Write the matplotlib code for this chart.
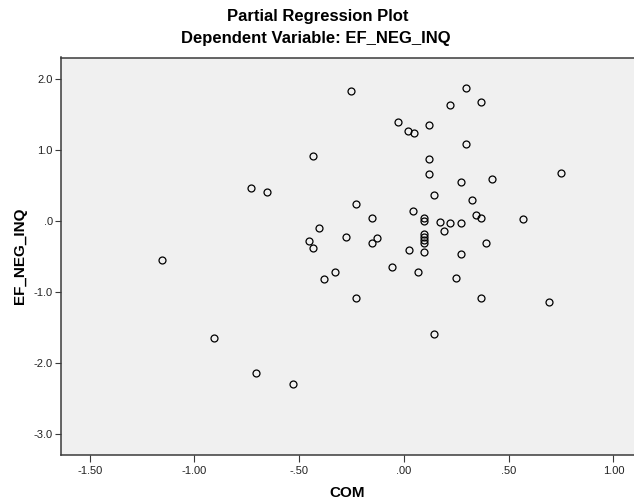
import matplotlib
matplotlib.use("Agg")
import matplotlib.pyplot as plt

plt.rcParams['font.family'] = ['Liberation Sans', 'DejaVu Sans']

com = [-0.252, -0.433, -0.729, -0.655, -0.229, -0.404, -0.278, -0.455, -0.433, -1.155,
       -0.382, -0.331, -0.229, -0.905, -0.705, -0.528, 0.294, 0.221, 0.369, -0.029,
       0.021, 0.046, 0.119, 0.294, 0.119, 0.119, 0.272, 0.420, 0.749, 0.143,
       0.323, 0.045, -0.154, 0.096, 0.096, 0.170, 0.221, 0.272, 0.345, 0.369,
       0.568, 0.192, -0.154, -0.130, 0.096, 0.096, 0.096, 0.096, 0.022, 0.096,
       0.272, 0.391, -0.057, 0.067, 0.248, 0.369, 0.692, 0.143]
ef_neg_inq = [1.824, 0.910, 0.460, 0.413, 0.239, -0.103, -0.225, -0.281, -0.380, -0.553,
              -0.816, -0.717, -1.083, -1.646, -2.147, -2.300, 1.871, 1.632, 1.674, 1.398,
              1.262, 1.233, 1.346, 1.083, 0.872, 0.657, 0.544, 0.591, 0.671, 0.366,
              0.291, 0.134, 0.047, 0.037, 0.000, -0.013, -0.023, -0.023, 0.080, 0.038,
              0.024, -0.140, -0.304, -0.243, -0.180, -0.225, -0.270, -0.310, -0.410, -0.440,
              -0.462, -0.304, -0.641, -0.715, -0.806, -1.083, -1.143, -1.593]

xticks = [-1.5, -1.0, -0.5, 0.0, 0.5, 1.0]
xticklabels = ["-1.50", "-1.00", "-.50", ".00", ".50", "1.00"]
yticks = [2.0, 1.0, 0.0, -1.0, -2.0, -3.0]
yticklabels = ["2.0", "1.0", ".0", "-1.0", "-2.0", "-3.0"]

fig = plt.figure(figsize=(6.34, 5.04), dpi=100)
ax = fig.add_axes([61/634, 49/504, 1 - 61/634, (455-57.5)/504])
ax.set_facecolor('#F0F0F0')

ax.plot(com, ef_neg_inq, linestyle='none', marker='o', markersize=5,
        markerfacecolor='none', markeredgecolor='black', markeredgewidth=0.9)

ax.set_xlim(-1.637, 1.098)
ax.set_ylim(-3.295, 2.302)
ax.set_xticks(xticks)
ax.set_xticklabels(xticklabels)
ax.set_yticks(yticks)
ax.set_yticklabels(yticklabels)

for s in ['left', 'bottom', 'top']:
    ax.spines[s].set_color('#3a3a3a')
    ax.spines[s].set_linewidth(1.1)
ax.spines['right'].set_visible(False)

ax.tick_params(axis='both', direction='out', length=4, width=0.8, color='#3a3a3a',
               labelsize=8, labelcolor='#222222', pad=2)
ax.tick_params(axis='x', length=5, pad=3)

ax.set_xlabel('COM', fontsize=11, fontweight='bold', labelpad=7)
ax.set_ylabel('EF_NEG_INQ', fontsize=11, fontweight='bold')
ax.yaxis.set_label_coords(-0.059, 0.5)

fig.text(318/634, 1 - 16/504, 'Partial Regression Plot', ha='center', va='center',
         fontsize=12, fontweight='bold')
fig.text(316/634, 1 - 38/504, 'Dependent Variable: EF_NEG_INQ', ha='center', va='center',
         fontsize=12, fontweight='bold')

fig.savefig('out.png', dpi=100)
